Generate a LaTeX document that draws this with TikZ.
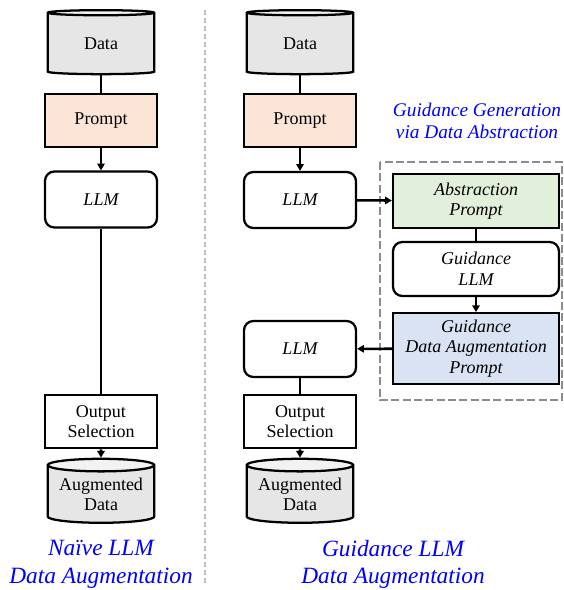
\documentclass[tikz,border=0pt]{standalone}
\usepackage{fontspec}
\setmainfont{Liberation Serif}
\usetikzlibrary{arrows.meta,positioning,shapes.geometric}
\definecolor{peach}{RGB}{251,229,214}
\definecolor{sage}{RGB}{226,239,218}
\definecolor{mist}{RGB}{218,227,243}
\definecolor{drum}{RGB}{230,230,230}
\definecolor{drumtop}{RGB}{242,242,242}
\definecolor{rule}{RGB}{140,140,140}
\tikzset{
  >={Triangle[length=5pt,width=5.5pt]},
  store/.style={cylinder,shape border rotate=90,aspect=0.15,draw,line width=1.7pt,
    cylinder uses custom fill,cylinder body fill=drum,cylinder end fill=drumtop,
    minimum width=80pt,minimum height=48pt,inner sep=0pt,align=center,
    font=\fontsize{13.5}{15.5}\selectfont},
  box/.style={draw,line width=1.7pt,fill=#1,minimum width=84pt,minimum height=40pt,
    inner sep=1pt,align=center,font=\fontsize{13.5}{15.5}\selectfont},
  box/.default=white,
  model/.style={box,rounded corners=7pt,minimum height=42pt,font=\fontsize{13.5}{15.5}\selectfont\itshape},
  wide/.style={box=#1,minimum width=124.5pt,font=\fontsize{13.5}{15.5}\selectfont\itshape},
  flow/.style={line width=1.9pt},
  tag/.style={text=blue,font=\fontsize{17.5}{20.5}\selectfont\itshape,align=center},
}
\begin{document}
\begin{tikzpicture}[x=0.75pt,y=-0.75pt]
  \useasboundingbox (0,0) rectangle (564,590);
  % separator and dashed group
  \draw[rule!55,line width=1.5pt,dash pattern=on 4pt off 2pt] (205,10) -- (205,585);
  \draw[rule,line width=1.8pt,dash pattern=on 6pt off 2.5pt] (380,162) rectangle (562,400);
  % naive pipeline
  \node[store] (dataL) at (101,44) {Data};
  \node[box=peach] (promptL) at (101,120.5) {Prompt};
  \node[model] (llmL) at (101,199.5) {LLM};
  \node[box] (outL) at (101,421.5) {Output\\Selection};
  \node[store] (augL) at (101,494.5) {Augmented\\Data};
  \node[tag] (capL) at (101,564.5) {Naïve LLM\\Data Augmentation};
  % guided pipeline
  \node[store] (dataR) at (300,44) {Data};
  \node[box=peach] (promptR) at (300,120.5) {Prompt};
  \node[model] (llmR) at (300,200) {LLM};
  \node[model] (llmB) at (300,349) {LLM};
  \node[box] (outR) at (300,421.5) {Output\\Selection};
  \node[store] (augR) at (300,494.5) {Augmented\\Data};
  \node[tag] (capR) at (393,564.5) {Guidance LLM\\Data Augmentation};
  % guidance block
  \node[tag,font=\fontsize{14.5}{16.5}\selectfont\itshape] (head) at (477,120.5) {Guidance Generation\\via Data Abstraction};
  \node[wide=sage] (abs) at (476,201) {Abstraction\\Prompt};
  \node[model,minimum width=124.5pt,minimum height=40.5pt] (gllm) at (476,269) {Guidance\\LLM};
  \node[wide=mist,minimum height=53pt] (gdap) at (476,348.5) {Guidance\\Data Augmentation\\Prompt};
  % connectors
  \draw[flow] (dataL) -- (promptL);
  \draw[flow,->] (promptL) -- (llmL);
  \draw[flow] (llmL) -- (outL);
  \draw[flow,->] (outL) -- (augL);
  \draw[flow] (dataR) -- (promptR);
  \draw[flow,->] (promptR) -- (llmR);
  \draw[flow,->] (llmR) -- (abs);
  \draw[flow] (abs) -- (gllm);
  \draw[flow,->] (gllm) -- (gdap);
  \draw[flow,->] (gdap) -- (llmB);
  \draw[flow] (llmB) -- (outR);
  \draw[flow,->] (outR) -- (augR);
\end{tikzpicture}
\end{document}
